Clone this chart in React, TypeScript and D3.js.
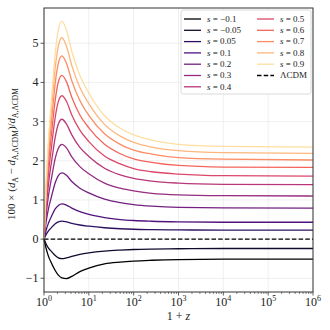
import React from "react";
import * as d3 from "d3";

// log10(1+z) sample positions
const logOnePlusZ = [0, 0.05, 0.1, 0.17, 0.25, 0.32, 0.4, 0.5, 0.62, 0.8, 1.0, 1.35, 1.7, 2.0, 2.4, 3, 4, 6];

const sValues = ["−0.1", "−0.05", "0.05", "0.1", "0.2", "0.3", "0.4", "0.5", "0.6", "0.7", "0.8", "0.9"];

const sM010 = [0, -0.25, -0.44, -0.62, -0.8, -0.92, -0.99, -1.01, -0.95, -0.83, -0.74, -0.63, -0.585, -0.56, -0.54, -0.522, -0.513, -0.51];
const sM005 = [0, -0.13, -0.23, -0.32, -0.42, -0.48, -0.5, -0.48, -0.44, -0.39, -0.35, -0.305, -0.28, -0.265, -0.254, -0.246, -0.24, -0.24];
const s005 = [0, 0.12, 0.21, 0.3, 0.39, 0.44, 0.46, 0.44, 0.4, 0.36, 0.33, 0.29, 0.265, 0.252, 0.243, 0.235, 0.23, 0.23];
const s010 = [0, 0.24, 0.41, 0.59, 0.77, 0.86, 0.9, 0.87, 0.79, 0.7, 0.63, 0.55, 0.5, 0.475, 0.456, 0.44, 0.43, 0.43];
const s020 = [0, 0.46, 0.78, 1.1, 1.44, 1.62, 1.69, 1.63, 1.47, 1.3, 1.18, 1.02, 0.93, 0.88, 0.84, 0.81, 0.8, 0.79];
const s030 = [0, 0.65, 1.11, 1.57, 2.06, 2.32, 2.42, 2.33, 2.1, 1.85, 1.67, 1.43, 1.3, 1.23, 1.17, 1.13, 1.11, 1.1];
const s040 = [0, 0.83, 1.41, 1.99, 2.6, 2.94, 3.06, 2.94, 2.66, 2.34, 2.11, 1.81, 1.64, 1.55, 1.48, 1.43, 1.4, 1.39];
const s050 = [0, 0.99, 1.68, 2.38, 3.11, 3.51, 3.66, 3.52, 3.17, 2.78, 2.49, 2.12, 1.92, 1.8, 1.72, 1.66, 1.62, 1.61];
const s060 = [0, 1.13, 1.92, 2.72, 3.55, 4.01, 4.18, 4.02, 3.62, 3.17, 2.84, 2.42, 2.18, 2.05, 1.96, 1.88, 1.84, 1.83];
const s070 = [0, 1.26, 2.15, 3.04, 3.98, 4.49, 4.68, 4.49, 4.04, 3.54, 3.16, 2.69, 2.42, 2.27, 2.17, 2.08, 2.04, 2.02];
const s080 = [0, 1.39, 2.36, 3.34, 4.37, 4.93, 5.14, 4.93, 4.43, 3.87, 3.46, 2.93, 2.63, 2.47, 2.35, 2.26, 2.21, 2.19];
const s090 = [0, 1.5, 2.56, 3.61, 4.73, 5.34, 5.56, 5.34, 4.79, 4.18, 3.73, 3.15, 2.83, 2.66, 2.53, 2.42, 2.37, 2.35];

const allSeries = [sM010, sM005, s005, s010, s020, s030, s040, s050, s060, s070, s080, s090];

const yTicks = [-1, 0, 1, 2, 3, 4, 5];
const xTickExps = [0, 1, 2, 3, 4, 5, 6];

const FONT = "'Liberation Serif', 'DejaVu Serif', serif";

const App = () => {
  const width = 330;
  const height = 330;
  const MARGIN = { top: 8, right: 17, bottom: 38, left: 44 };
  const boundsWidth = width - MARGIN.left - MARGIN.right;
  const boundsHeight = height - MARGIN.top - MARGIN.bottom;

  const xScale = d3.scaleLog().domain([1, 1e6]).range([0, boundsWidth]);
  const yScale = d3.scaleLinear().domain([-1.35, 5.9]).range([boundsHeight, 0]);

  const color = (i: number) => d3.interpolateMagma((i / (allSeries.length - 1)) * 0.93);

  const lineBuilder = d3
    .line<number>()
    .x((_, i) => xScale(Math.pow(10, logOnePlusZ[i])))
    .y((d) => yScale(d))
    .curve(d3.curveMonotoneX);

  // minor ticks on log axis
  const minorTicks: number[] = [];
  for (let e = 0; e < 6; e++) {
    for (let m = 2; m <= 9; m++) minorTicks.push(m * Math.pow(10, e));
  }

  const legendRows = 7;
  const legendX = 181 - MARGIN.left;
  const legendY = 10 - MARGIN.top;
  const rowH = 11.3;

  return (
    <svg width={width} height={height} style={{ position: "absolute", left: 0, top: 0, background: "#fff" }}>
      <g transform={`translate(${MARGIN.left},${MARGIN.top})`}>
        {/* grid */}
        {xTickExps.map((e) => (
          <line key={"gx" + e} x1={xScale(Math.pow(10, e))} x2={xScale(Math.pow(10, e))} y1={0} y2={boundsHeight} stroke="#ebebeb" strokeWidth={0.8} />
        ))}
        {yTicks.map((t) => (
          <line key={"gy" + t} x1={0} x2={boundsWidth} y1={yScale(t)} y2={yScale(t)} stroke="#ebebeb" strokeWidth={0.8} />
        ))}

        {/* curves */}
        {allSeries.map((s, i) => (
          <path key={i} d={lineBuilder(s) || ""} fill="none" stroke={color(i)} strokeWidth={1.3} />
        ))}
        <line x1={0} x2={boundsWidth} y1={yScale(0)} y2={yScale(0)} stroke="#000" strokeWidth={1.3} strokeDasharray="4.5,2.2" />

        {/* frame */}
        <rect x={0} y={0} width={boundsWidth} height={boundsHeight} fill="none" stroke="#333" strokeWidth={1} />

        {/* y ticks */}
        {yTicks.map((t) => (
          <g key={"yt" + t} transform={`translate(0,${yScale(t)})`}>
            <line x1={-3.5} x2={0} stroke="#333" strokeWidth={0.8} />
            <text x={-5.5} dy="0.33em" textAnchor="end" fontFamily={FONT} fontSize={12} fill="#222">
              {t < 0 ? "−" + Math.abs(t) : t}
            </text>
          </g>
        ))}

        {/* x ticks */}
        {minorTicks.map((t) => (
          <line key={"mx" + t} x1={xScale(t)} x2={xScale(t)} y1={boundsHeight} y2={boundsHeight + 2} stroke="#333" strokeWidth={0.6} />
        ))}
        {xTickExps.map((e) => (
          <g key={"xt" + e} transform={`translate(${xScale(Math.pow(10, e))},${boundsHeight})`}>
            <line y1={0} y2={3.5} stroke="#333" strokeWidth={0.8} />
            <text y={14} textAnchor="middle" fontFamily={FONT} fontSize={12} fill="#222">
              10
              <tspan dy={-5} fontSize={8}>{e}</tspan>
            </text>
          </g>
        ))}

        {/* axis labels */}
        <text x={boundsWidth / 2} y={boundsHeight + 28} textAnchor="middle" fontFamily={FONT} fontSize={12} fill="#222">
          1 + <tspan fontStyle="italic">z</tspan>
        </text>
        <text
          transform={`translate(${-29},${boundsHeight / 2 + 4}) rotate(-90)`}
          textAnchor="middle"
          fontFamily={FONT}
          fontSize={11}
          fill="#222"
        >
          100 × (<tspan fontStyle="italic">d</tspan>
          <tspan dy={2.5} fontSize={7.5}>A</tspan>
          <tspan dy={-2.5}> − </tspan>
          <tspan fontStyle="italic">d</tspan>
          <tspan dy={2.5} fontSize={7.5}>A,ΛCDM</tspan>
          <tspan dy={-2.5}>)/</tspan>
          <tspan fontStyle="italic">d</tspan>
          <tspan dy={2.5} fontSize={7.5}>A,ΛCDM</tspan>
        </text>

        {/* legend */}
        <g transform={`translate(${legendX},${legendY})`}>
          <rect x={0} y={0} width={130} height={84} rx={2.5} fill="#fff" fillOpacity={0.85} stroke="#d0d0d0" strokeWidth={0.8} />
          {allSeries.map((_, i) => {
            const col = i < legendRows ? 0 : 1;
            const row = i < legendRows ? i : i - legendRows;
            const lx = col === 0 ? 3 : 76;
            const ly = 9 + row * rowH;
            return (
              <g key={"lg" + i} transform={`translate(${lx},${ly})`}>
                <line x1={0} x2={17} y1={0} y2={0} stroke={color(i)} strokeWidth={1.3} />
                <text x={23} dy="0.32em" fontFamily={FONT} fontSize={9} fill="#222">
                  <tspan fontStyle="italic">s</tspan> = {sValues[i]}
                </text>
              </g>
            );
          })}
          <g transform={`translate(76,${9 + 5 * rowH})`}>
            <line x1={0} x2={17} y1={0} y2={0} stroke="#000" strokeWidth={1.3} strokeDasharray="4.5,2.2" />
            <text x={23} dy="0.32em" fontFamily={FONT} fontSize={9} fill="#222">ΛCDM</text>
          </g>
        </g>
      </g>
    </svg>
  );
};

export default App;
